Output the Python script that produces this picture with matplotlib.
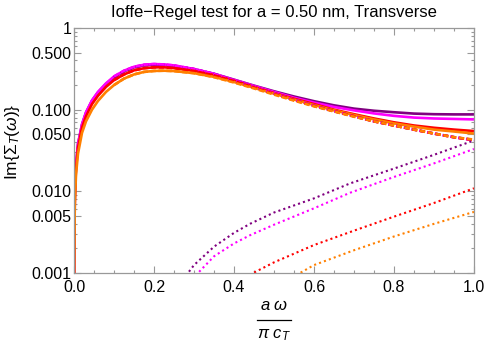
import matplotlib
matplotlib.use("Agg")
import matplotlib.pyplot as plt
from matplotlib.lines import Line2D
from matplotlib.ticker import FixedLocator, NullFormatter

plt.rcParams['font.family'] = ['Liberation Sans', 'DejaVu Sans']
plt.rcParams['mathtext.fontset'] = 'custom'
plt.rcParams['mathtext.rm'] = 'Liberation Sans'
plt.rcParams['mathtext.it'] = 'Liberation Sans:italic'

title = "Ioffe\u2212Regel test for a = 0.50 nm, Transverse"

# shared x grid for solid / dashed curves
x_main = [0, 0.0003, 0.002, 0.005, 0.01, 0.02, 0.03, 0.045, 0.06, 0.08, 0.1, 0.125, 0.15,
          0.175, 0.2, 0.225, 0.25, 0.3, 0.35, 0.4, 0.45, 0.5, 0.55, 0.6, 0.65, 0.7, 0.75,
          0.8, 0.85, 0.9, 0.95, 1.0]

purple_solid = [1e-6, 0.0012, 0.009, 0.021, 0.038, 0.066, 0.092, 0.129, 0.163, 0.207, 0.25, 0.295,
                0.33, 0.35, 0.356, 0.353, 0.344, 0.313, 0.275, 0.233, 0.197, 0.168, 0.145, 0.127,
                0.113, 0.103, 0.097, 0.093, 0.0895, 0.088, 0.0875, 0.0875]
magenta_solid = [1e-6, 0.0012, 0.009, 0.021, 0.038, 0.066, 0.093, 0.13, 0.165, 0.21, 0.255, 0.3,
                 0.335, 0.355, 0.362, 0.358, 0.348, 0.315, 0.275, 0.232, 0.195, 0.165, 0.14, 0.122,
                 0.108, 0.098, 0.09, 0.084, 0.08, 0.078, 0.077, 0.076]
red_solid = [1e-6, 0.001, 0.008, 0.019, 0.034, 0.06, 0.083, 0.117, 0.148, 0.19, 0.23, 0.27,
             0.303, 0.322, 0.33, 0.33, 0.323, 0.298, 0.265, 0.226, 0.19, 0.16, 0.136, 0.117,
             0.1, 0.088, 0.078, 0.07, 0.064, 0.06, 0.057, 0.0547]
orange_solid = [1e-6, 0.0009, 0.007, 0.016, 0.029, 0.052, 0.072, 0.1, 0.128, 0.165, 0.2, 0.24,
                0.27, 0.29, 0.298, 0.3, 0.297, 0.28, 0.252, 0.218, 0.185, 0.157, 0.133, 0.114,
                0.098, 0.086, 0.076, 0.068, 0.062, 0.057, 0.054, 0.051]

# dashed curves
x_dash = [0.1, 0.125, 0.15, 0.175, 0.2, 0.225, 0.25, 0.3, 0.35, 0.4, 0.45, 0.5, 0.55, 0.6,
          0.65, 0.7, 0.75, 0.8, 0.85, 0.9, 0.95, 1.0]
purple_dash = [0.25, 0.295, 0.33, 0.35, 0.356, 0.353, 0.344, 0.313, 0.273, 0.229, 0.19, 0.158,
               0.132, 0.112, 0.096, 0.083, 0.072, 0.064, 0.057, 0.051, 0.046, 0.0425]
magenta_dash = [0.255, 0.3, 0.335, 0.355, 0.362, 0.358, 0.348, 0.315, 0.273, 0.228, 0.19, 0.158,
                0.132, 0.112, 0.096, 0.083, 0.072, 0.064, 0.057, 0.051, 0.046, 0.042]
red_dash = [0.23, 0.27, 0.303, 0.322, 0.33, 0.33, 0.323, 0.298, 0.263, 0.224, 0.187, 0.156,
            0.131, 0.111, 0.096, 0.083, 0.072, 0.064, 0.057, 0.051, 0.046, 0.0425]
orange_dash = [0.2, 0.24, 0.27, 0.29, 0.298, 0.3, 0.297, 0.28, 0.25, 0.215, 0.182, 0.153,
               0.129, 0.11, 0.095, 0.082, 0.072, 0.064, 0.057, 0.051, 0.046, 0.043]

# dotted curves
x_dot_purple = [0.27, 0.285, 0.3, 0.35, 0.4, 0.44, 0.5, 0.6, 0.69, 0.8, 0.9, 1.0]
purple_dot = [0.0007, 0.001, 0.00125, 0.0021, 0.0031, 0.004, 0.0055, 0.0082, 0.0125, 0.019, 0.028, 0.042]
x_dot_magenta = [0.295, 0.31, 0.35, 0.4, 0.44, 0.5, 0.6, 0.69, 0.8, 0.9, 1.0]
magenta_dot = [0.0007, 0.001, 0.0016, 0.0023, 0.0029, 0.0039, 0.0062, 0.0096, 0.015, 0.022, 0.033]
x_dot_red = [0.43, 0.448, 0.5, 0.6, 0.7, 0.8, 0.9, 1.0]
red_dot = [0.0007, 0.001, 0.00135, 0.0022, 0.0033, 0.0049, 0.0072, 0.0109]
x_dot_orange = [0.545, 0.565, 0.6, 0.7, 0.8, 0.9, 1.0]
orange_dot = [0.0007, 0.001, 0.00125, 0.0019, 0.0028, 0.004, 0.0056]

colors = {'purple': '#800080', 'magenta': '#FF00FF', 'red': '#FF0000', 'orange': '#FF8000'}

x_ticks = [0.0, 0.2, 0.4, 0.6, 0.8, 1.0]
x_tick_labels = ["0.0", "0.2", "0.4", "0.6", "0.8", "1.0"]
y_ticks = [0.001, 0.005, 0.01, 0.05, 0.1, 0.5, 1]
y_tick_labels = ["0.001", "0.005", "0.010", "0.050", "0.100", "0.500", "1"]

fig = plt.figure(figsize=(4.88, 3.48), dpi=100)
ax = fig.add_axes([74/488, 1-273/348, 400/488, 245/348])

ax.set_yscale('log')
lw = 1.9
for ys, c in [(purple_solid, 'purple'), (magenta_solid, 'magenta'), (red_solid, 'red'), (orange_solid, 'orange')]:
    ax.plot(x_main, ys, color=colors[c], lw=lw, solid_capstyle='butt')
for ys, c in [(purple_dash, 'purple'), (magenta_dash, 'magenta'), (red_dash, 'red'), (orange_dash, 'orange')]:
    ax.plot(x_dash, ys, color=colors[c], lw=lw, linestyle=(0, (2.0, 1.0)))
for xs, ys, c in [(x_dot_purple, purple_dot, 'purple'), (x_dot_magenta, magenta_dot, 'magenta'),
                  (x_dot_red, red_dot, 'red'), (x_dot_orange, orange_dot, 'orange')]:
    ax.plot(xs, ys, color=colors[c], lw=1.5, linestyle=(0, (1, 1.5)))

ax.set_xlim(0, 1)
ax.set_ylim(0.001, 1)

ax.xaxis.set_major_locator(FixedLocator(x_ticks))
ax.set_xticklabels(x_tick_labels)
ax.xaxis.set_minor_locator(FixedLocator([i * 0.05 for i in range(21)]))
ax.yaxis.set_major_locator(FixedLocator(y_ticks))
ax.set_yticklabels(y_tick_labels)
minor_y = [m * 10**e for e in (-3, -2, -1) for m in range(1, 10)]
ax.yaxis.set_minor_locator(FixedLocator(minor_y))
ax.yaxis.set_minor_formatter(NullFormatter())

for sp in ax.spines.values():
    sp.set_color('#999999')
    sp.set_linewidth(0.9)
ax.tick_params(which='both', direction='in', top=True, right=True, color='#999999',
               labelsize=11.5, labelcolor='black', width=0.8)
ax.tick_params(which='major', length=5)
ax.tick_params(which='minor', length=2.5)
ax.tick_params(axis='x', pad=5)
ax.tick_params(axis='y', pad=2)

fig.text(274/488, 1-12/348, title, ha='center', va='center', fontsize=12)
fig.text(13/488, 1-142/348, r'Im$\{\Sigma_{T}(\omega)\}$', rotation=90, ha='center', va='center', fontsize=12.5)

# x-axis label as a built-up fraction
fig.text(274/488, 1-306/348, r'$a\ \omega$', ha='center', va='center', fontsize=12)
fig.add_artist(Line2D([257/488, 291/488], [1-320/348, 1-320/348], color='black', lw=0.9,
                      transform=fig.transFigure))
fig.text(274/488, 1-335/348, r'$\pi\ c_{T}$', ha='center', va='center', fontsize=12)

fig.savefig('out.png', dpi=100)
